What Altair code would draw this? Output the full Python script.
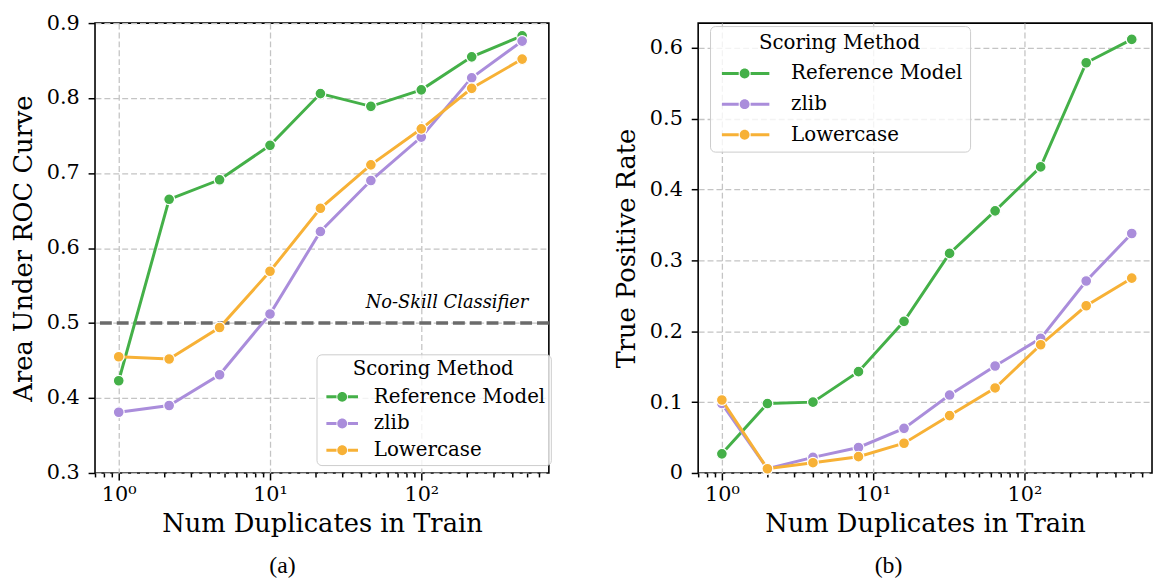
import altair as alt
import pandas as pd

FONT = "DejaVu Serif"

series = ["Reference Model", "zlib", "Lowercase"]
colors = ["#44b048", "#aa8ddb", "#f7b136"]

# Panel (a): AUC vs duplicates
x_a = [1, 2.154, 4.642, 10, 21.54, 46.42, 100, 215.4, 464.2]
ref_a = [0.423, 0.665, 0.691, 0.737, 0.806, 0.789, 0.811, 0.855, 0.883]
zlib_a = [0.381, 0.390, 0.431, 0.512, 0.622, 0.690, 0.748, 0.827, 0.876]
lower_a = [0.455, 0.452, 0.494, 0.569, 0.653, 0.711, 0.759, 0.813, 0.852]

# Panel (b): TPR vs duplicates
x_b = [1, 2, 4, 8, 16, 32, 64, 128, 256, 512]
ref_b = [0.027, 0.098, 0.100, 0.143, 0.214, 0.310, 0.370, 0.432, 0.579, 0.612]
zlib_b = [0.098, 0.006, 0.022, 0.036, 0.063, 0.110, 0.151, 0.190, 0.271, 0.338]
lower_b = [0.103, 0.006, 0.0145, 0.023, 0.042, 0.081, 0.120, 0.181, 0.236, 0.275]

x_major = [1, 10, 100]
x_minor = [0.7, 0.8, 0.9, 2, 3, 4, 5, 6, 7, 8, 9, 20, 30, 40, 50, 60, 70, 80, 90,
           200, 300, 400, 500, 600]
y_ticks_a = [0.3, 0.4, 0.5, 0.6, 0.7, 0.8, 0.9]
y_ticks_b = [0, 0.1, 0.2, 0.3, 0.4, 0.5, 0.6]

noskill_y = [0.5]
noskill_label = ["No-Skill Classifier"]
noskill_label_x = [510]


def make_df(xs, ys_list):
    rows = []
    for name, ys in zip(series, ys_list):
        for i, (xv, yv) in enumerate(zip(xs, ys)):
            rows.append({"x": xv, "y": yv, "method": name, "order": i})
    return pd.DataFrame(rows)


df_a = make_df(x_a, [ref_a, zlib_a, lower_a])
df_b = make_df(x_b, [ref_b, zlib_b, lower_b])

major_test = "datum.value == 1 || datum.value == 10 || datum.value == 100"

x_axis = alt.Axis(
    values=x_major + x_minor,
    labelExpr="datum.value == 1 ? '10⁰' : datum.value == 10 ? '10¹' : datum.value == 100 ? '10²' : ''",
    tickSize={"condition": {"test": major_test, "value": 7}, "value": 4},
    gridOpacity={"condition": {"test": major_test, "value": 1}, "value": 0},
    labelOverlap=False,
    labelFlush=False,
    labelPadding=4,
    titlePadding=6,
    title="Num Duplicates in Train",
)

x_scale = alt.Scale(type="log", domain=[0.697, 697], nice=False)


def y_axis(vals, fmt, title):
    return alt.Axis(values=vals, format=fmt, tickSize=7, labelPadding=9,
                    titlePadding=10, title=title)


def legend(path, lx, ly, label_offset, padding, row_pad, title_pad):
    return alt.Legend(
        title="Scoring Method",
        orient="none",
        legendX=lx,
        legendY=ly,
        symbolType=path,
        symbolSize=100,
        symbolStrokeWidth=0,
        symbolOpacity=1,
        labelOffset=label_offset,
        labelLimit=400,
        padding=padding,
        rowPadding=row_pad,
        titlePadding=title_pad,
        fillColor="rgba(255,255,255,0.8)",
        strokeColor="#cccccc",
        cornerRadius=5,
        titleAnchor="middle",
        labelFont=FONT,
        labelFontSize=20,
        labelColor="black",
        titleFont=FONT,
        titleFontSize=20,
        titleFontWeight="normal",
        titleColor="black",
    )


path_a = ("M-1,-0.3H1.05V0.3H-1Z M3.35,-0.3H5.4V0.3H3.35Z "
          "M3.2,0A1,1,0,1,1,1.2,0A1,1,0,1,1,3.2,0Z")
path_b = ("M-1,-0.3H2.4V0.3H-1Z M4.8,-0.3H8.6V0.3H4.8Z "
          "M4.6,0A1,1,0,1,1,2.6,0A1,1,0,1,1,4.6,0Z")


def panel(df, y_scale, yax, leg, width, height, caption, cap_dx, with_noskill):
    color_scale = alt.Scale(domain=series, range=colors)
    layers = []
    if with_noskill:
        layers.append(
            alt.Chart(pd.DataFrame({"y": noskill_y})).mark_rule(
                color="#6b6b6b", strokeWidth=3.5, strokeDash=[12, 5]
            ).encode(y=alt.Y("y:Q", scale=y_scale, axis=yax))
        )
        layers.append(
            alt.Chart(pd.DataFrame({"x": noskill_label_x, "y": noskill_y,
                                    "t": noskill_label})).mark_text(
                align="right", baseline="alphabetic", dy=-15, fontStyle="italic",
                fontSize=18, font=FONT, color="black"
            ).encode(x=alt.X("x:Q", scale=x_scale, axis=x_axis),
                     y=alt.Y("y:Q", scale=y_scale, axis=yax),
                     text="t:N")
        )
    for s, c in zip(series, colors):
        base = alt.Chart(df).transform_filter(alt.datum.method == s).encode(
            x=alt.X("x:Q", scale=x_scale, axis=x_axis),
            y=alt.Y("y:Q", scale=y_scale, axis=yax),
            order="order:Q",
        )
        layers.append(base.mark_line(strokeWidth=3, color=c))
        layers.append(base.mark_point(filled=True, size=120, stroke="white",
                                      strokeWidth=1.2, opacity=1).encode(
            color=alt.Color("method:N", scale=color_scale, legend=leg)))
    return alt.layer(*layers).properties(
        width=width, height=height,
        title=alt.TitleParams(caption, orient="bottom", anchor="middle",
                              offset=18, dx=cap_dx, font="Liberation Serif",
                              fontSize=24, fontWeight="normal", color="black"),
    )


left = panel(
    df_a,
    alt.Scale(domain=[0.3, 0.9], nice=False, zero=False),
    y_axis(y_ticks_a, ".1f", "Area Under ROC Curve"),
    legend(path_a, 224, 335, 33, 5, 7, 8),
    459, 455, "(a)", -40, True,
)
right = panel(
    df_b,
    alt.Scale(domain=[0, 0.635], nice=False, zero=False),
    y_axis(y_ticks_b, "~g", "True Positive Rate"),
    legend(path_b, 12, 3, 55, 7, 11, 11),
    459, 455, "(b)", -37, False,
)

chart = alt.concat(left, right, columns=2, spacing=60).resolve_scale(
    color="independent", x="independent", y="independent"
).resolve_legend(color="independent").properties(
    padding={"left": 1, "top": 0, "right": 0, "bottom": 0}
).configure_view(
    stroke="black", strokeWidth=1.6
).configure_legend(
    labelFont=FONT, titleFont=FONT
).configure_axis(
    domain=False,
    tickColor="black",
    tickWidth=1.5,
    labelFont=FONT,
    labelFontSize=21,
    labelColor="black",
    titleFont=FONT,
    titleFontSize=26,
    titleFontWeight="normal",
    titleColor="black",
    grid=True,
    gridColor="#c4c4c4",
    gridDash=[6, 3],
    gridWidth=1.3,
)

chart.save("out.html", embed_options={"renderer": "svg", "actions": False})
